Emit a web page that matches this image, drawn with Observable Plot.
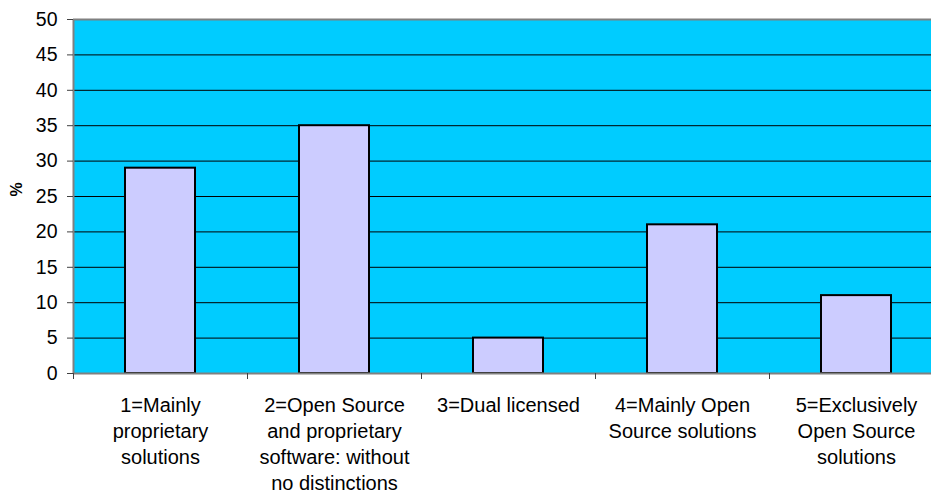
<!DOCTYPE html>
<html>
<head>
<meta charset="utf-8">
<script src="https://cdn.jsdelivr.net/npm/d3@7"></script>
<script src="https://cdn.jsdelivr.net/npm/@observablehq/plot@0.6"></script>
<style>
  html, body { margin: 0; padding: 0; background: #ffffff; overflow: hidden; }
  #chart svg { overflow: hidden; }
</style>
</head>
<body>
<div id="chart"></div>
<script>
const categories = [
  "1=Mainly\nproprietary\nsolutions",
  "2=Open Source\nand proprietary\nsoftware: without\nno distinctions",
  "3=Dual licensed",
  "4=Mainly Open\nSource solutions",
  "5=Exclusively\nOpen Source\nsolutions"
];
const values = [29, 35, 5, 21, 11];
const yTicks = [0, 5, 10, 15, 20, 25, 30, 35, 40, 45, 50];
const yLabel = "%";

const data = categories.map((c, i) => ({category: c, value: values[i]}));
const font = "'Liberation Sans', Arial, sans-serif";

const chart = Plot.plot({
  width: 931,
  height: 490,
  marginLeft: 73,
  marginRight: 0,
  marginTop: 19,
  marginBottom: 117,
  style: {fontFamily: font, color: "#000", background: "#fff", overflow: "hidden"},
  x: {domain: categories, range: [73, 943], padding: 0},
  y: {domain: [0, 50], range: [373, 19]},
  marks: [
    Plot.frame({fill: "#00CCFF", stroke: null}),
    Plot.gridY(yTicks.filter(t => t > 0 && t < 50), {stroke: "#000", strokeOpacity: 1, strokeWidth: 1}),
    Plot.ruleY([50], {stroke: "#808080", strokeWidth: 2}),
    Plot.barY(data, {x: "category", y: "value", fill: "#CCCCFF", stroke: "#000", strokeWidth: 2, insetLeft: 52, insetRight: 52}),
    Plot.ruleY([0], {stroke: "#808080", strokeWidth: 2}),
    Plot.ruleX([categories[0]], {dx: -87, stroke: "#808080", strokeWidth: 2}),
    Plot.axisY({ticks: yTicks, tickSize: 6, tickPadding: 10, fontSize: 19.5, label: null, stroke: "#404040", fill: "#000"}),
    Plot.axisX({tickSize: 6, text: null, dx: -87, label: null, stroke: "#404040"}),
    Plot.axisX({tickSize: 0, tickPadding: 20, fontSize: 20, lineHeight: 1.3, label: null, fill: "#000"}),
    Plot.text([yLabel], {frameAnchor: "left", dx: -57, rotate: -90, fontSize: 16, fontWeight: "bold", fill: "#000"})
  ]
});
document.getElementById("chart").appendChild(chart);
</script>
</body>
</html>
